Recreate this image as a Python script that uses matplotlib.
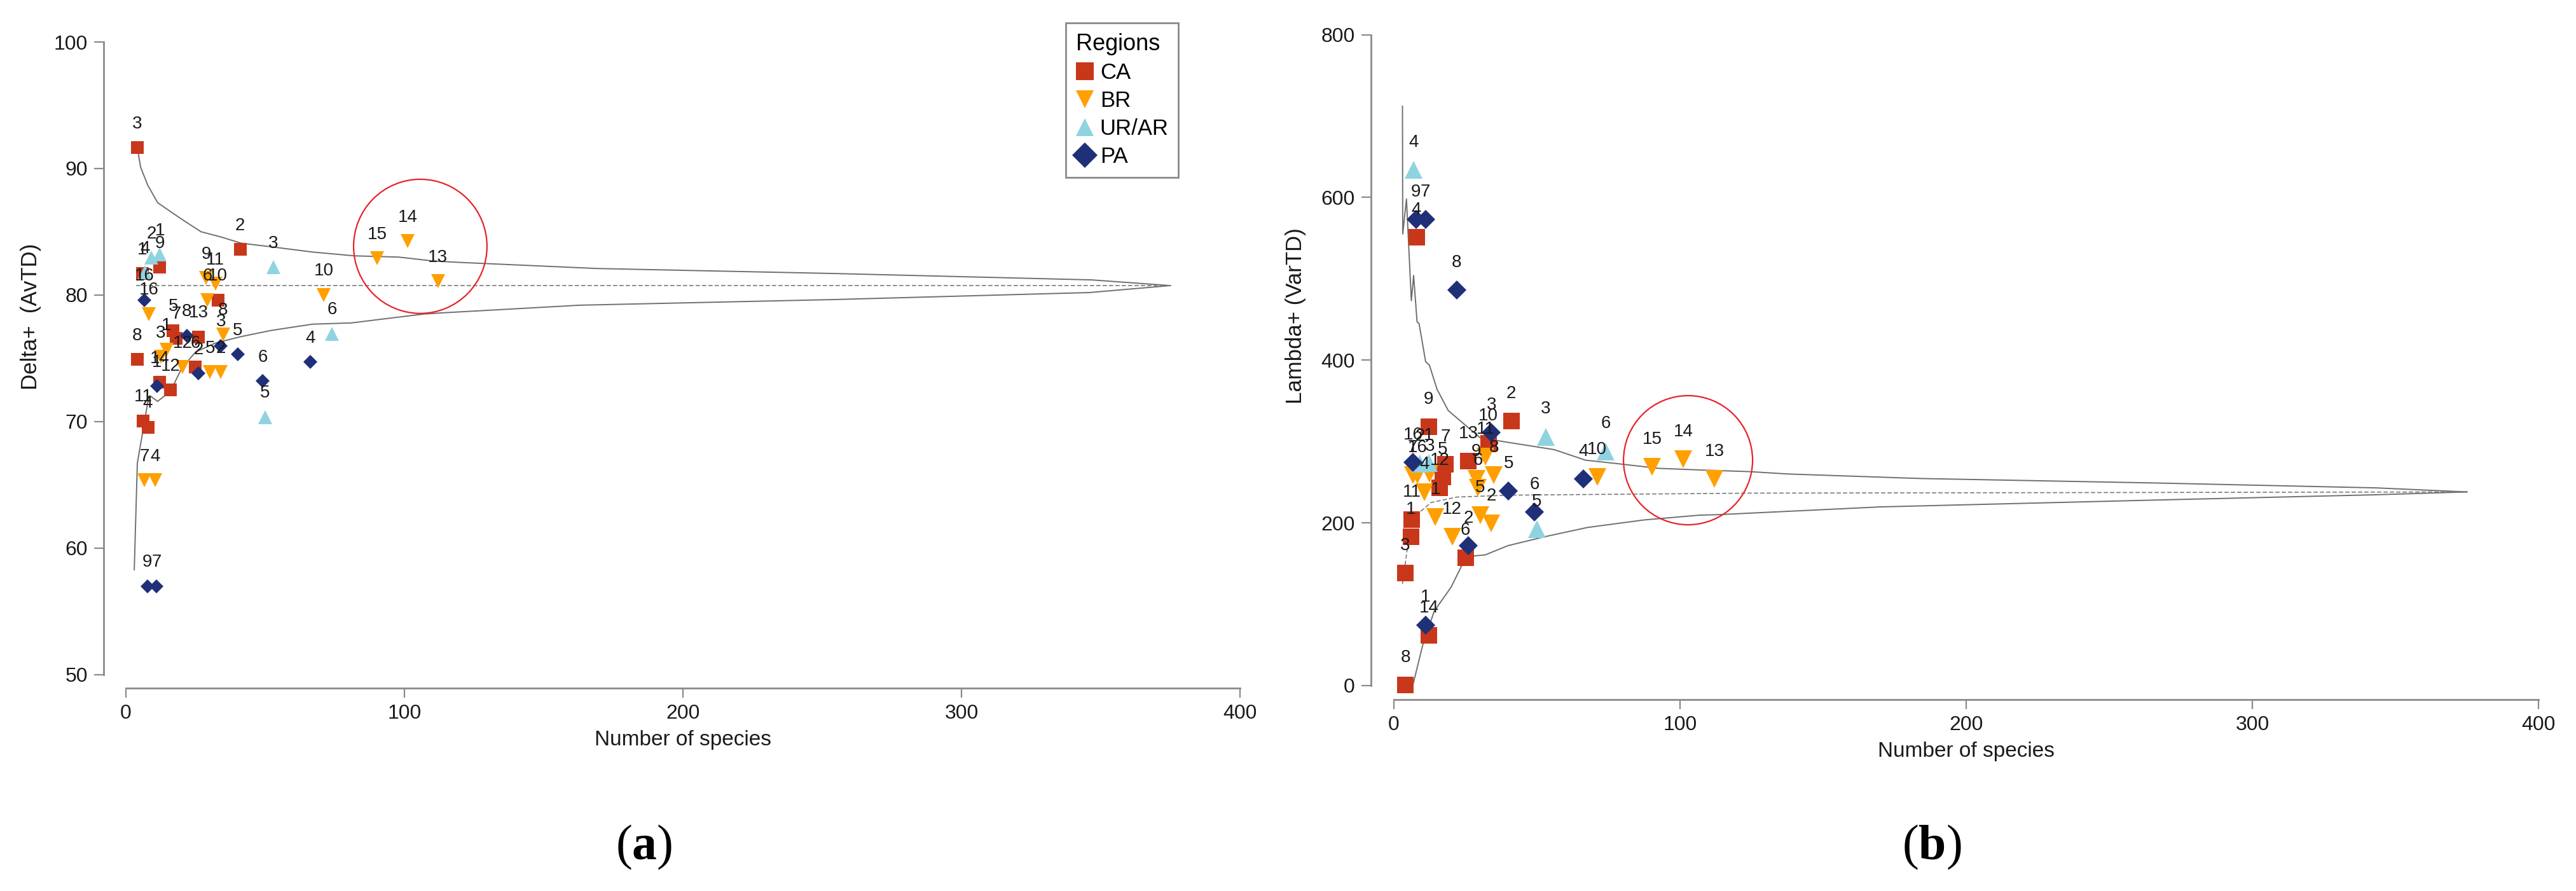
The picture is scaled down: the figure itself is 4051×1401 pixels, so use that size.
import matplotlib
matplotlib.use("Agg")
import matplotlib.pyplot as plt
from matplotlib.lines import Line2D
from matplotlib.patches import Ellipse

plt.rcParams["font.family"] = ["Liberation Sans", "DejaVu Sans"]
plt.rcParams["mathtext.fontset"] = "custom"
plt.rcParams["mathtext.rm"] = "Liberation Serif"
plt.rcParams["mathtext.bf"] = "Liberation Serif:bold"

# ---- data ----
regions = ["CA", "BR", "UR/AR", "PA"]

ca_sites = ["3", "8", "2", "9", "1", "10", "5", "7", "13", "6", "14", "12", "11", "4"]
ca_species = [4.0, 4.0, 41.0, 12.2, 5.9, 33.0, 17.0, 18.0, 26.0, 25.0, 12.2, 16.0, 6.2, 7.9]
ca_avtd = [91.65, 74.9, 83.6, 82.2, 81.7, 79.6, 77.2, 76.6, 76.7, 74.3, 73.1, 72.5, 70.05, 69.55]
ca_vartd = [138, 1, 325, 318, 183, 298, 256, 272, 276, 157, 62, 243, 204, 551]

br_sites = ["7", "4", "16", "9", "11", "6", "8", "1", "3", "12", "5", "2", "10", "15", "14", "13"]
br_species = [6.6, 10.6, 8.2, 28.8, 32.1, 29.3, 34.9, 14.5, 12.5, 20.4, 30.2, 34.1, 71.0, 90.2, 101.2, 112.0]
br_avtd = [65.35, 65.35, 78.5, 81.35, 80.9, 79.6, 76.9, 75.7, 75.1, 74.3, 73.9, 73.9, 80.0, 82.9, 84.25, 81.1]
br_vartd = [259, 238, 259, 254, 281, 243, 259, 207, 260, 183, 209.5, 199, 256, 269, 278, 254]

ur_sites = ["1", "2", "3", "4", "5", "6"]
ur_species = [12.2, 9.1, 53.0, 6.9, 49.9, 74.0]
ur_avtd = [83.2, 82.96, 82.2, 81.8, 70.35, 76.95]
ur_vartd = [273.6, 273, 306, 634, 192.5, 288]

pa_sites = ["9", "7", "8", "3", "16", "5", "6", "4", "2", "1"]
pa_species = [7.7, 11.0, 21.9, 34.1, 6.7, 40.1, 49.2, 66.2, 26.1, 11.1]
pa_avtd = [57.0, 57.0, 76.8, 76.0, 79.6, 75.3, 73.2, 74.7, 73.8, 72.8]
pa_vartd = [573, 573, 486, 311, 274.6, 239, 213, 254, 172, 74.6]

# funnels (95% probability limits and mean)
a_up_x = [4.1, 5.3, 7.8, 11.4, 16, 20, 27, 34, 41.4, 52.7, 67, 82, 98, 110, 118, 169, 255, 346.6, 375]
a_up_y = [91.6, 90.1, 88.7, 87.3, 86.6, 86.0, 85.0, 84.6, 84.1, 83.8, 83.4, 83.1, 83.0, 82.7, 82.6, 82.1, 81.7, 81.2, 80.75]
a_lo_x = [3, 4.1, 5.5, 6.7, 7.8, 8.9, 11.4, 16, 20, 25, 32, 41, 52, 67, 81, 92, 107, 114, 163, 255, 346, 375]
a_lo_y = [58.3, 66.7, 68.5, 70.0, 71.5, 72.0, 71.6, 72.4, 74.2, 75.5, 76.2, 76.7, 77.2, 77.7, 77.8, 78.1, 78.5, 78.6, 79.2, 79.65, 80.2, 80.75]
a_mean_x = [3.7, 375]
a_mean_y = [80.75, 80.75]

b_up_x = [3.0, 3.1, 4.4, 6.1, 6.9, 8.1, 8.8, 11.1, 12.4, 15.1, 19, 24, 30, 38, 56, 67, 77.5, 92.5, 107, 124, 138, 184, 266, 343, 375]
b_up_y = [712, 555, 598, 473, 504, 447, 445, 398, 394, 364, 338, 323, 305, 300, 290, 277, 273, 267, 265, 263, 260, 254.5, 249, 243, 238]
b_lo_x = [3.2, 6.6, 10.1, 14.1, 20, 24, 27, 31.9, 39.9, 52.8, 67.6, 87.5, 107, 113, 170, 266, 343, 375]
b_lo_y = [0, 0, 50, 91.5, 121, 149.5, 159, 160.6, 172, 183, 194.3, 203.6, 209.5, 210, 219.6, 228, 234.5, 238]
b_mean_x = [3, 5.5, 8, 13, 22, 40, 124, 375]
b_mean_y = [125, 189, 210, 225, 231.7, 234, 236.5, 238]

# highlighted sites (BR 13-15)
a_ring = (105.7, 83.85, 47.9, 10.6)
b_ring = (102.8, 277, 45.1, 158.7)

colors = {"CA": "#C8371A", "BR": "#FF9F00", "UR/AR": "#8FD3E0", "PA": "#1F2F78"}
markers = {"CA": "s", "BR": "v", "UR/AR": "^", "PA": "D"}

W, H = 4051, 1401
fig = plt.figure(figsize=(W / 100, H / 100), dpi=100)


def px_axes(left, right, top, bottom):
    return fig.add_axes([left / W, 1 - bottom / H, (right - left) / W, (bottom - top) / H])


def style_axes(ax, ybounds, yticks):
    for s in ["top", "right"]:
        ax.spines[s].set_visible(False)
    for s in ["left", "bottom"]:
        ax.spines[s].set_color("#8a8a8a")
        ax.spines[s].set_linewidth(2.0)
    ax.spines["left"].set_bounds(*ybounds)
    ax.spines["bottom"].set_bounds(0, 400)
    ax.set_xticks([0, 100, 200, 300, 400])
    ax.set_yticks(yticks)
    ax.tick_params(direction="out", length=11, width=1.6, color="#8a8a8a",
                   labelsize=23, labelcolor="#1a1a1a", pad=7)
    ax.set_xlabel("Number of species", fontsize=24, color="#1a1a1a")
    ax.xaxis.label.set_va("center")


def draw_panel(ax, yvals, sizes, offset, funnel, ring):
    up_x, up_y, lo_x, lo_y, m_x, m_y = funnel
    ax.plot(up_x, up_y, color="#6f6f6f", lw=1.4, zorder=2)
    ax.plot(lo_x, lo_y, color="#6f6f6f", lw=1.4, zorder=2)
    ax.plot(m_x, m_y, color="#7a7a7a", lw=1.2, ls=(0, (4, 2)), zorder=2)
    groups = [
        ("CA", ca_sites, ca_species, yvals[0]),
        ("BR", br_sites, br_species, yvals[1]),
        ("UR/AR", ur_sites, ur_species, yvals[2]),
        ("PA", pa_sites, pa_species, yvals[3]),
    ]
    for name, sites, xs, ys in groups:
        ax.plot(xs, ys, ls="none", marker=markers[name], color=colors[name],
                markersize=sizes[name], markeredgewidth=0, zorder=3)
        for lab, x, y in zip(sites, xs, ys):
            ax.annotate(lab, (x, y), xytext=(0, offset), textcoords="offset points",
                        ha="center", va="center", fontsize=20, color="#1a1a1a", zorder=4)
    cx, cy, w, h = ring
    ax.add_patch(Ellipse((cx, cy), w, h, fill=False, edgecolor="#E8232B", lw=1.6, zorder=5))


# panel (a): Delta+
ax1 = px_axes(163, 1950, 66, 1082)
ax1.set_xlim(-7.99, 400)
ax1.set_ylim(48.94, 100)
style_axes(ax1, (50, 100), [50, 60, 70, 80, 90, 100])
draw_panel(ax1, [ca_avtd, br_avtd, ur_avtd, pa_avtd],
           {"CA": 14.4, "BR": 16, "UR/AR": 16, "PA": 11}, 27,
           (a_up_x, a_up_y, a_lo_x, a_lo_y, a_mean_x, a_mean_y), a_ring)
ax1.set_ylabel("Delta+  (AvTD)", fontsize=25, color="#1a1a1a")
ax1.yaxis.label.set_va("center")
ax1.yaxis.set_label_coords(-0.0638, 0.575)
ax1.xaxis.set_label_coords(0.51, -0.0807)

# panel (b): Lambda+
ax2 = px_axes(2156, 3992, 54.5, 1100)
ax2.set_xlim(-8.0, 400)
ax2.set_ylim(-17.2, 800)
style_axes(ax2, (0, 800), [0, 200, 400, 600, 800])
draw_panel(ax2, [ca_vartd, br_vartd, ur_vartd, pa_vartd],
           {"CA": 18.5, "BR": 20.5, "UR/AR": 20.5, "PA": 15.5}, 31,
           (b_up_x, b_up_y, b_lo_x, b_lo_y, b_mean_x, b_mean_y), b_ring)
ax2.set_ylabel("Lambda+ (VarTD)", fontsize=25, color="#1a1a1a")
ax2.yaxis.label.set_va("center")
ax2.yaxis.set_label_coords(-0.0648, 0.577)
ax2.xaxis.set_label_coords(0.51, -0.0784)

# legend
handles = [Line2D([], [], ls="none", marker=markers[r], color=colors[r],
                  markersize=20, markeredgewidth=0) for r in regions]
leg = fig.legend(handles, regions, loc="upper left", bbox_to_anchor=(1676 / W, 1 - 36 / H),
                 title="Regions", fontsize=25, title_fontsize=26, frameon=True,
                 fancybox=False, edgecolor="#8a8a8a", framealpha=1,
                 handlelength=0.8, handletextpad=0.3, labelspacing=0.32,
                 borderpad=0.45, borderaxespad=0, alignment="left")
leg.get_frame().set_linewidth(2.0)

# panel captions
fig.text(1013 / W, 1 - 1332 / H, r"$(\mathbf{a})$", fontsize=56, ha="center", va="center")
fig.text(3038 / W, 1 - 1332 / H, r"$(\mathbf{b})$", fontsize=56, ha="center", va="center")

fig.savefig("out.png", dpi=100)
